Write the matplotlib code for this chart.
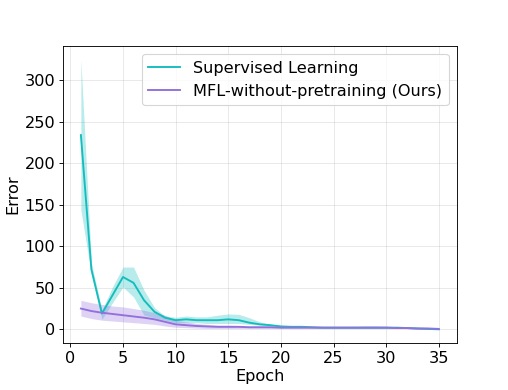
import matplotlib
matplotlib.use("Agg")
import matplotlib.pyplot as plt
import numpy as np

epochs = np.arange(1, 36)
sup_mean = [234, 72, 19, 41, 63, 56, 35, 21, 14, 11, 12, 11, 11, 11, 12, 11, 8, 6, 5, 3.5,
            3, 3, 2.5, 2, 2, 2, 2, 2, 2, 2, 2, 1.5, 1, 0.5, 0]
sup_low = [144, 66, 12, 32, 51, 39, 17, 14, 11, 8, 8, 8, 7, 7, 7, 7, 6, 5, 4, 3,
           2, 2, 2, 1.5, 1.5, 1.5, 1.5, 1.5, 1.5, 1.5, 1.5, 1, 0.5, 0, 0]
sup_high = [325, 80, 23, 51, 75, 75, 47, 26, 16, 14.5, 16, 15, 15, 17, 18.5, 18, 14, 9, 6, 4.5,
            4, 3.5, 3.5, 3.5, 3.5, 3.5, 3.5, 4, 4, 3.5, 3, 2, 1.5, 0.5, 0]
mfl_mean = [25, 22, 20, 18.5, 17, 15.5, 14, 12, 9, 6, 5, 4, 3.5, 3, 3, 3, 2.5, 2.5, 2.5, 2,
            2, 2, 2, 2, 2, 2, 2, 2, 2, 2, 1.5, 1.5, 1, 1, 0.5]
mfl_low = [16, 13, 11, 10, 9, 8, 7, 6, 4, 2.5, 2, 1.5, 1, 1, 1, 1, 1, 1, 1, 1,
           1, 1, 1, 1, 1, 1, 1, 1, 1, 1, 1, 1, 0.5, 0.5, 0]
mfl_high = [35, 32, 30, 28, 27, 25, 23, 20, 17, 11, 9, 7, 6, 5, 5, 4.5, 4, 4, 3.5, 3,
            3, 3, 3, 3, 3, 3, 3, 3, 3, 3, 2.5, 2, 1.5, 1.5, 1]

c1 = '#14BDBD'
c2 = '#9370DB'

fig = plt.figure(figsize=(508 / 80, 390 / 80), dpi=80)
ax = fig.add_axes([0.124, 0.121, 0.775, 0.761])
ax.plot(epochs, sup_mean, color=c1, lw=1.7, label='Supervised Learning')
ax.fill_between(epochs, sup_low, sup_high, color=c1, alpha=0.3, lw=0)
ax.plot(epochs, mfl_mean, color=c2, lw=1.7, label='MFL-without-pretraining (Ours)')
ax.fill_between(epochs, mfl_low, mfl_high, color=c2, alpha=0.3, lw=0)
ax.grid(True, color='#b0b0b0', alpha=0.3, lw=0.8)
ax.set_axisbelow(True)
ax.set_xticks([0, 5, 10, 15, 20, 25, 30, 35])
ax.set_yticks([0, 50, 100, 150, 200, 250, 300])
ax.tick_params(labelsize=14.5)
ax.set_xlabel('Epoch', fontsize=14.5, labelpad=3)
ax.set_ylabel('Error', fontsize=14.5)
ax.legend(fontsize=14.5, loc='upper right')
fig.savefig('out.png', dpi=80)
